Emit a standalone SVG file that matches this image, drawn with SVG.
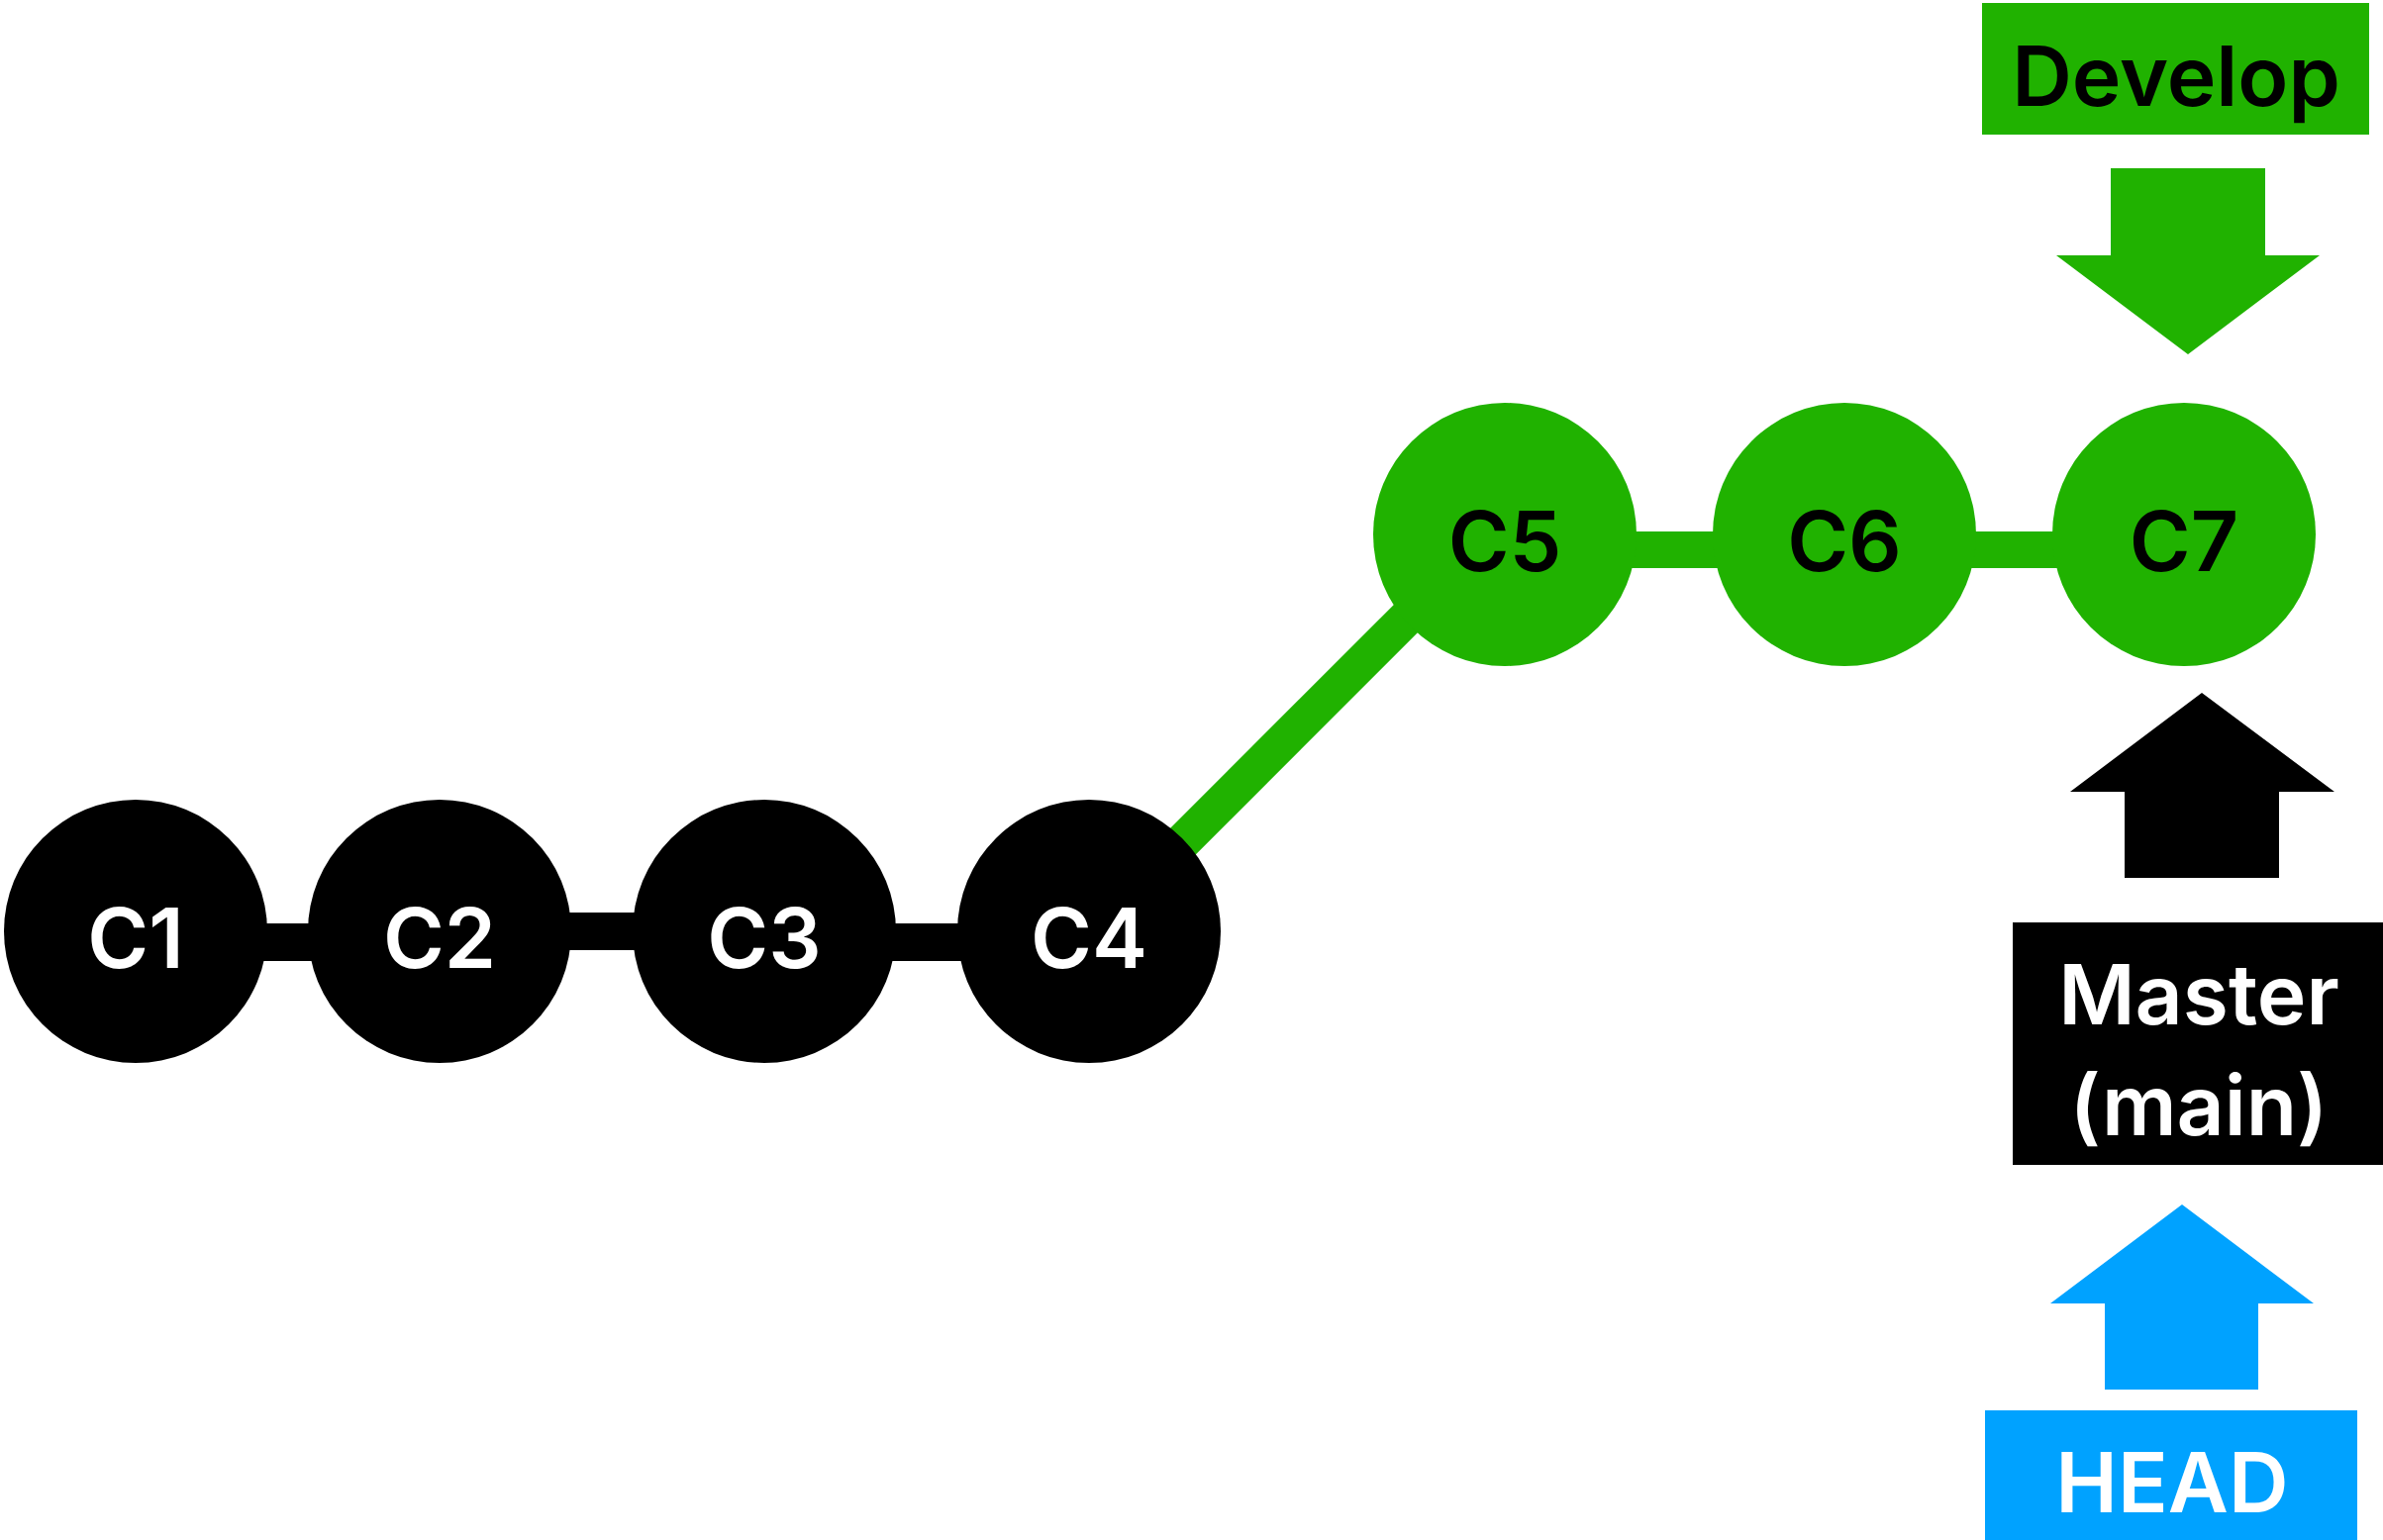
<svg xmlns="http://www.w3.org/2000/svg" width="2407" height="1556" viewBox="0 0 2407 1556">
<style>
.lbl{font-family:Inter,"Liberation Sans",Arial,sans-serif;font-weight:600;font-size:84px;text-anchor:middle}
.w{fill:#ffffff}
.k{fill:#000000}
.g{fill:#20B200}
.b{fill:#00A2FF}
</style>
<rect width="2407" height="1556" fill="#ffffff"/>
<g id="connectors">
  <rect class="k" x="137" y="933" width="307" height="38"/>
  <rect class="k" x="444" y="922" width="328" height="38"/>
  <rect class="k" x="772" y="933" width="328" height="38"/>
  <line x1="1100" y1="945" x2="1505" y2="540" stroke="#20B200" stroke-width="37"/>
  <rect class="g" x="1520" y="537" width="343" height="37"/>
  <rect class="g" x="1863" y="537" width="343" height="37"/>
  <polygon class="g" points="2132,170 2288,170 2288,258 2343,258 2210,358 2077,258 2132,258"/>
  <polygon class="k" points="2224,700 2358,800 2302,800 2302,887 2146,887 2146,800 2091,800"/>
  <polygon class="b" points="2204,1217 2337,1317 2281,1317 2281,1404 2126,1404 2126,1317 2071,1317"/>
</g>
<g id="C1"><circle class="k" cx="137" cy="941" r="133"/><text class="lbl w" x="137" y="978">C1</text></g>
<g id="C2"><circle class="k" cx="444" cy="941" r="133"/><text class="lbl w" x="444" y="978">C2</text></g>
<g id="C3"><circle class="k" cx="772" cy="941" r="133"/><text class="lbl w" x="772" y="978">C3</text></g>
<g id="C4"><circle class="k" cx="1100" cy="941" r="133"/><text class="lbl w" x="1100" y="978">C4</text></g>
<g id="C5"><circle class="g" cx="1520" cy="540" r="133"/><text class="lbl k" x="1520" y="577">C5</text></g>
<g id="C6"><circle class="g" cx="1863" cy="540" r="133"/><text class="lbl k" x="1863" y="577">C6</text></g>
<g id="C7"><circle class="g" cx="2206" cy="540" r="133"/><text class="lbl k" x="2206" y="577">C7</text></g>
<g id="develop"><rect class="g" x="2002" y="3" width="391" height="133"/><text class="lbl k" x="2198" y="107">Develop</text></g>
<g id="master"><rect class="k" x="2033" y="932" width="380" height="245"/><text class="lbl w" x="2221" y="1035">Master</text><text class="lbl w" x="2221" y="1147">(main)</text></g>
<g id="head"><rect class="b" x="2005" y="1425" width="376" height="140"/><text class="lbl w" x="2194" y="1528">HEAD</text></g>
</svg>
